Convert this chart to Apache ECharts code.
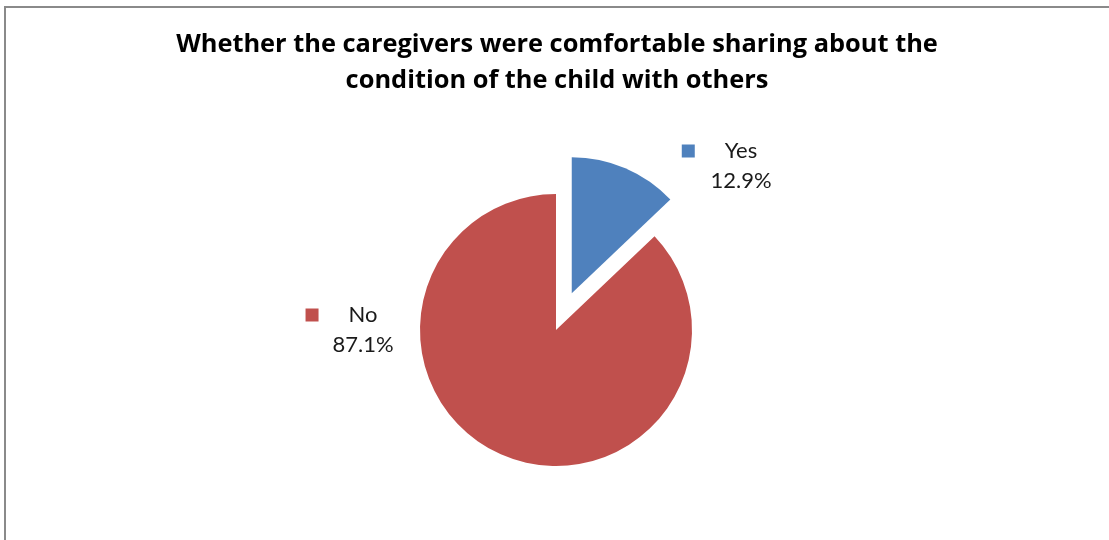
<!DOCTYPE html>
<html>
<head>
<meta charset="utf-8">
<script src="https://cdn.jsdelivr.net/npm/echarts@6/dist/echarts.min.js"></script>
<style>
  html, body { margin: 0; padding: 0; background: #fff; }
  #frame { position: absolute; left: 4px; top: 6px; width: 1200px; height: 600px;
           border-left: 2px solid #8a8a8a; border-top: 2px solid #8a8a8a; }
  #chart { position: absolute; left: 0; top: 0; width: 1109px; height: 540px; }
</style>
</head>
<body>
<div id="frame"></div>
<div id="chart"></div>
<script>
// Survey answer categories and their shares (%)
const categories = ['Yes', 'No'];
const shares = [12.9, 87.1];
const colors = ['#4F81BD', '#C0504D'];
const titleText = 'Whether the caregivers were comfortable sharing about the\ncondition of the child with others';

// Pie geometry and label placement (offsets from the pie centre)
const pieCenter = [556, 330];
const pieRadius = 136;
const explodeIndex = 0;      // the "Yes" slice is pulled out
const explodeDistance = 40;
const labelOffsets = [[185, -164], [-193, 0]];

const labelFont = 'Lato, "Open Sans", sans-serif';
const titleFont = '"Open Sans", Lato, sans-serif';

// Direction of the exploded slice: middle of its arc, clockwise from 12 o'clock
const total = shares.reduce(function (a, b) { return a + b; }, 0);
let before = 0;
for (let i = 0; i < explodeIndex; i++) before += shares[i];
const midAngle = (before + shares[explodeIndex] / 2) / total * 2 * Math.PI;
const explodedCenter = [
  pieCenter[0] + Math.sin(midAngle) * explodeDistance,
  pieCenter[1] - Math.cos(midAngle) * explodeDistance
];

const labelRich = {
  sq0: { width: 13, height: 13, backgroundColor: colors[0], verticalAlign: 'middle' },
  sq1: { width: 13, height: 13, backgroundColor: colors[1], verticalAlign: 'middle' },
  gap: { width: 30 },
  pad: { width: 43 },
  n: { fontFamily: labelFont, fontSize: 22, lineHeight: 30, color: '#1a1a1a' },
  v: { fontFamily: labelFont, fontSize: 22, lineHeight: 30, color: '#1a1a1a' }
};

// One pie layer per slice group; slices not owned by a layer are left invisible
function pieLayer(center, owns) {
  return {
    type: 'pie',
    center: center,
    radius: pieRadius,
    startAngle: 90,
    clockwise: true,
    silent: true,
    emphasis: { disabled: true },
    labelLine: { show: false },
    label: {
      show: true,
      position: 'outside',
      formatter: function (p) {
        return '{sq' + p.dataIndex + '|}{gap|}{n|' + p.name + '}{pad|}\n{v|' + p.value.toFixed(1) + '%}';
      },
      rich: labelRich
    },
    labelLayout: function (params) {
      const off = labelOffsets[params.dataIndex];
      return {
        x: pieCenter[0] + off[0],
        y: pieCenter[1] + off[1],
        align: 'center',
        verticalAlign: 'middle'
      };
    },
    data: categories.map(function (name, i) {
      const mine = owns(i);
      return {
        name: name,
        value: shares[i],
        itemStyle: { color: mine ? colors[i] : 'rgba(0,0,0,0)', borderWidth: 0 },
        label: { show: mine }
      };
    })
  };
}

const chart = echarts.init(document.getElementById('chart'), null, { renderer: 'canvas' });

chart.setOption({
  backgroundColor: 'transparent',
  animation: false,
  title: {
    text: titleText,
    left: 557,
    top: 27,
    padding: 0,
    textAlign: 'center',
    textStyle: {
      fontFamily: titleFont,
      fontWeight: 'bold',
      fontSize: 25.4,
      lineHeight: 36,
      color: '#000'
    }
  },
  series: [
    pieLayer(pieCenter, function (i) { return i !== explodeIndex; }),
    pieLayer(explodedCenter, function (i) { return i === explodeIndex; })
  ]
});
</script>
</body>
</html>
